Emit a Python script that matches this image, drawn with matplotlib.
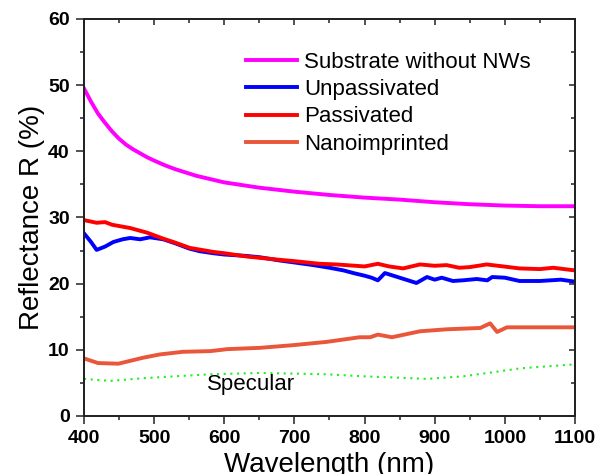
import matplotlib
matplotlib.use("Agg")
import matplotlib.pyplot as plt
from matplotlib.ticker import MultipleLocator

plt.rcParams['font.family'] = ['Liberation Sans', 'DejaVu Sans']

# substrate without nanowires
wl_sub = [400, 410, 420, 430, 440, 450, 460, 470, 480, 490, 500, 515, 530, 545,
          560, 580, 600, 625, 650, 675, 700, 750, 800, 850, 900, 950, 1000, 1050,
          1100]
r_sub = [49.5, 47.5, 45.7, 44.3, 43.0, 41.9, 41.0, 40.3, 39.7, 39.1, 38.6, 37.9,
         37.3, 36.8, 36.3, 35.8, 35.3, 34.9, 34.5, 34.2, 33.9, 33.4, 33.0, 32.7,
         32.3, 32.0, 31.8, 31.7, 31.7]

# unpassivated
wl_unp = [400, 410, 418, 430, 442, 455, 466, 480, 494, 513, 530, 550, 565, 584,
          600, 630, 650, 679, 700, 727, 750, 770, 784, 800, 810, 819, 829, 850,
          874, 889, 900, 910, 926, 940, 960, 975, 982, 1000, 1021, 1050, 1080, 1100]
r_unp = [27.6, 26.3, 25.1, 25.6, 26.3, 26.7, 26.9, 26.7, 27.0, 26.7, 26.1, 25.3,
         24.9, 24.6, 24.4, 24.2, 24.0, 23.5, 23.2, 22.8, 22.4, 22.0, 21.6, 21.2,
         20.9, 20.5, 21.6, 20.9, 20.1, 21.0, 20.6, 20.9, 20.4, 20.5, 20.7, 20.5,
         21.0, 20.9, 20.4, 20.4, 20.6, 20.3]

# passivated
wl_pas = [400, 418, 430, 440, 466, 490, 513, 530, 551, 584, 600, 632, 679, 700,
          736, 760, 800, 819, 835, 855, 879, 900, 917, 935, 950, 974, 998, 1021,
          1050, 1069, 1100]
r_pas = [29.6, 29.2, 29.3, 28.9, 28.4, 27.7, 26.8, 26.2, 25.4, 24.8, 24.6, 24.1,
         23.6, 23.4, 23.0, 22.9, 22.6, 23.0, 22.6, 22.3, 22.9, 22.7, 22.8, 22.4,
         22.5, 22.9, 22.6, 22.3, 22.2, 22.4, 22.0]

# nanoimprinted
wl_nano = [400, 420, 449, 484, 508, 541, 580, 604, 651, 698, 746, 793, 808, 819,
           839, 879, 917, 965, 979, 989, 1003, 1022, 1060, 1100]
r_nano = [8.7, 8.0, 7.9, 8.8, 9.3, 9.7, 9.8, 10.1, 10.3, 10.7, 11.2, 11.9, 11.9,
          12.3, 11.9, 12.8, 13.1, 13.3, 14.0, 12.7, 13.4, 13.4, 13.4, 13.4]

# specular component
wl_spec = [400, 437, 484, 530, 580, 651, 700, 746, 798, 846, 889, 941, 989, 1022,
           1060, 1100]
r_spec = [5.6, 5.3, 5.7, 6.0, 6.3, 6.5, 6.4, 6.3, 6.0, 5.8, 5.6, 6.0, 6.7, 7.2,
          7.5, 7.8]

fig = plt.figure(figsize=(6.06, 4.74), dpi=100)
ax = fig.add_axes([0.1386, 0.1224, 0.8102, 0.8376])

lw = 2.8
ax.plot(wl_sub, r_sub, color='#ff00ff', lw=lw, label='Substrate without NWs')
ax.plot(wl_unp, r_unp, color='#0000ff', lw=lw, label='Unpassivated')
ax.plot(wl_pas, r_pas, color='#ff0000', lw=lw, label='Passivated')
ax.plot(wl_nano, r_nano, color='#e9563a', lw=lw, label='Nanoimprinted')
ax.plot(wl_spec, r_spec, color='#22ee22', lw=1.5, linestyle=(0, (1, 2.2)))

ax.text(575, 3.9, 'Specular', fontsize=16)

ax.set_xlim(400, 1100)
ax.set_ylim(0, 60)
ax.xaxis.set_major_locator(MultipleLocator(100))
ax.xaxis.set_minor_locator(MultipleLocator(50))
ax.yaxis.set_major_locator(MultipleLocator(10))
ax.yaxis.set_minor_locator(MultipleLocator(5))
ax.tick_params(which='both', direction='out', top=False, right=False, width=1.1,
               labelsize=14, pad=4.5, colors='#222222', labelcolor='black')
ax.tick_params(which='major', length=5.8)
ax.tick_params(which='minor', length=3)
for lab in ax.get_xticklabels() + ax.get_yticklabels():
    lab.set_fontweight('bold')

# mirrored inward ticks on top and right
axt = ax.twiny()
axt.set_xlim(ax.get_xlim())
axt.xaxis.set_major_locator(MultipleLocator(100))
axt.xaxis.set_minor_locator(MultipleLocator(50))
axt.tick_params(which='both', direction='in', labeltop=False, width=1.1,
                colors='#222222')
axt.tick_params(which='major', length=4.5)
axt.tick_params(which='minor', length=3)
axr = ax.twinx()
axr.set_ylim(ax.get_ylim())
axr.yaxis.set_major_locator(MultipleLocator(10))
axr.yaxis.set_minor_locator(MultipleLocator(5))
axr.tick_params(which='both', direction='in', labelright=False, width=1.1,
                colors='#222222')
axr.tick_params(which='major', length=4.5)
axr.tick_params(which='minor', length=3)

for a in (ax, axt, axr):
    for sp in a.spines.values():
        sp.set_linewidth(1.1)
        sp.set_color('#222222')

ax.set_xlabel('Wavelength (nm)', fontsize=20, labelpad=3.5)
ax.set_ylabel('Reflectance R (%)', fontsize=20, labelpad=2)

ax.legend(loc='upper left', bbox_to_anchor=(0.33, 0.918), frameon=False,
          fontsize=16, handlelength=2.3, handletextpad=0.32, labelspacing=0.29,
          borderpad=0, borderaxespad=0)

fig.savefig('out.png', dpi=100)
